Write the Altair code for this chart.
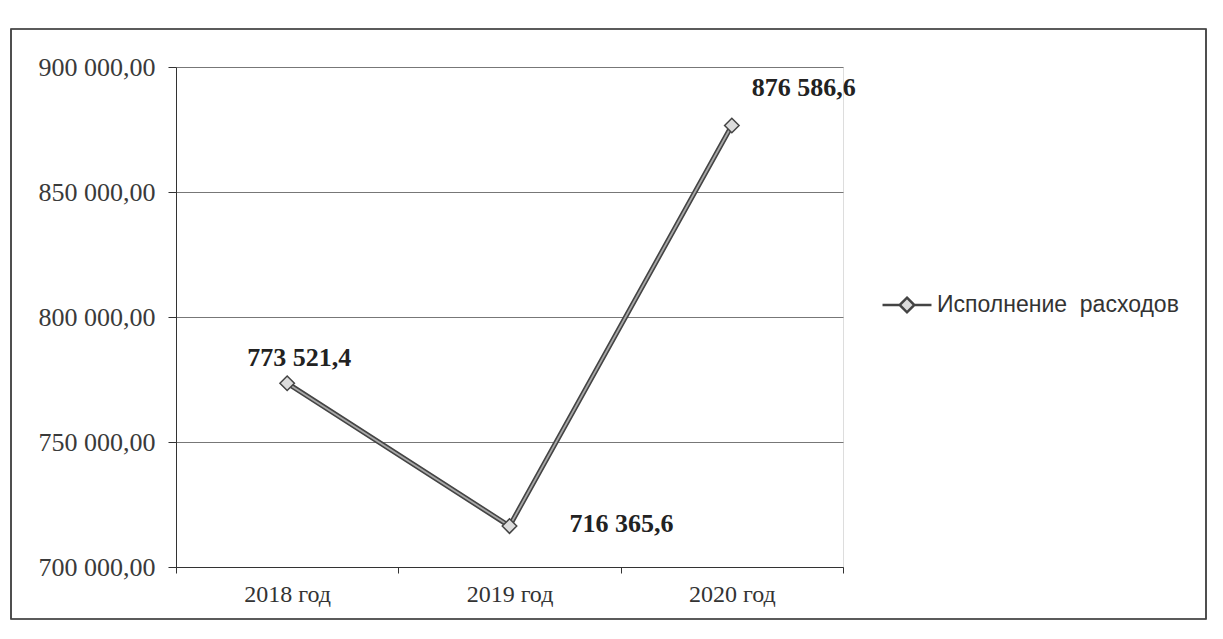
import altair as alt
import pandas as pd

years = ["2018 год", "2019 год", "2020 год"]
values = [773521.4, 716365.6, 876586.6]
value_labels = ["773 521,4", "716 365,6", "876 586,6"]
series_name = "Исполнение\u00a0\u00a0расходов"
y_ticks = [700000, 750000, 800000, 850000, 900000]

df = pd.DataFrame({"year": years, "value": values, "label": value_labels,
                   "series": [series_name] * 3})

W, H = 667, 500
SERIF = "Liberation Serif"
SANS = "Liberation Sans"

x_enc = alt.X("year:N", sort=years, title=None,
              scale=alt.Scale(paddingInner=0, paddingOuter=0),
              axis=alt.Axis(labelAngle=0, labelFont=SERIF, labelFontSize=24,
                            labelColor="#333", labelPadding=9, tickBand="extent",
                            tickColor="#333", tickSize=6, domainColor="#333",
                            grid=False))
y_enc = alt.Y("value:Q", title=None,
              scale=alt.Scale(domain=[700000, 900000], nice=False, zero=False),
              axis=alt.Axis(values=y_ticks, labelFont=SERIF, labelFontSize=26,
                            labelColor="#3a3a3a", labelPadding=13, tickSize=8,
                            tickColor="#333", domainColor="#333",
                            gridColor="#777", gridWidth=1,
                            labelExpr="format(datum.value/1000, '.0f') + ' 000,00'"))

base = alt.Chart(df)

border = base.mark_rect(fill=None, stroke="#444", strokeWidth=1.2).encode(
    x=alt.value(-165), x2=alt.value(1030), y=alt.value(-38), y2=alt.value(552))

line_outer = base.mark_line(color="#444444", strokeWidth=5).encode(x=x_enc, y=y_enc)
line_inner = base.mark_line(color="#a8a8a8", strokeWidth=1.8).encode(
    x=alt.X("year:N", sort=years), y="value:Q")

diamond_legend = "M-1,0L-0.3,0M0.3,0L1,0M0,-0.3L0.3,0L0,0.3L-0.3,0Z"
points = base.mark_point(shape="diamond", size=210, filled=False, fill="#dcdcdc",
                         fillOpacity=1, strokeWidth=1.5, opacity=1).encode(
    x=alt.X("year:N", sort=years), y="value:Q",
    stroke=alt.Stroke("series:N", scale=alt.Scale(range=["#444444"]),
                      legend=alt.Legend(title=None, orient="none", legendX=705,
                                        legendY=212, labelFont=SANS,
                                        labelFontSize=23, labelColor="#333",
                                        labelLimit=0,
                                        symbolType=diamond_legend, symbolSize=2400,
                                        symbolFillColor="#dcdcdc",
                                        symbolStrokeColor="#444444",
                                        symbolStrokeWidth=2.5, labelOffset=4,
                                        padding=0)))

def label_layer(i, dx, dy, align):
    return alt.Chart(df.iloc[[i]]).mark_text(
        font=SERIF, fontSize=26, fontWeight="bold", color="#222",
        dx=dx, dy=dy, align=align, baseline="middle").encode(
        x=alt.X("year:N", sort=years), y="value:Q", text="label:N")

labels = label_layer(0, 12, -25, "center") + label_layer(1, 60, -2, "left") + \
    label_layer(2, 72, -38, "center")

chart = alt.layer(border, line_outer, line_inner, points, labels).properties(
    width=W, height=H,
    autosize=alt.AutoSizeParams(type="none"),
    padding={"left": 168, "top": 59, "right": 364, "bottom": 62},
).configure_view(stroke=None).configure(background="white")

chart.save("out.html", embed_options={"renderer": "svg", "actions": False})
